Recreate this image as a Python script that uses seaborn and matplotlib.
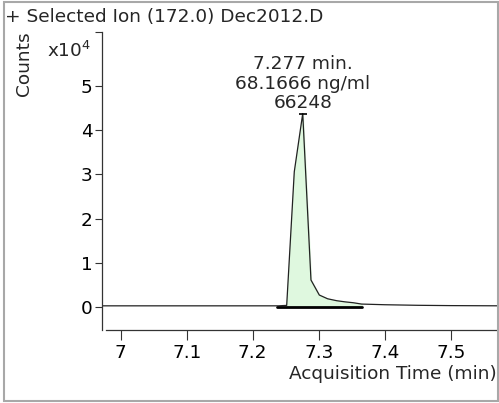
import numpy as np
import pandas as pd
import matplotlib
matplotlib.use('Agg')
import matplotlib.pyplot as plt
import seaborn as sns
from matplotlib.patches import Rectangle

# signal (time in min, counts)
acq_time = [6.965, 7.05, 7.15, 7.2389, 7.2515, 7.263, 7.2758, 7.2883, 7.3009,
            7.3135, 7.3273, 7.34, 7.3525, 7.365, 7.40, 7.45, 7.50, 7.58]
counts = [200, 200, 200, 200, 300, 30600, 43800, 6050, 2650,
          1800, 1360, 1100, 900, 600, 450, 320, 250, 200]

# integrated peak
peak_start, peak_end = 7.2366, 7.365
apex_time, apex_counts = 7.2758, 43800
peak_label = ['7.277 min.', '68.1666 ng/ml', '66248']

title = '+ Selected Ion (172.0) Dec2012.D'
ytick_vals = [0, 1, 2, 3, 4, 5]
xtick_vals = [7, 7.1, 7.2, 7.3, 7.4, 7.5]

sns.set_style('white')
plt.rcParams['font.family'] = ['DejaVu Sans']
fs = 13.3

W, H = 499, 403
fig = plt.figure(figsize=(W / 100, H / 100), dpi=100)


def px(x0, y0, x1, y1):
    return [x0 / W, 1 - y1 / H, (x1 - x0) / W, (y1 - y0) / H]


ax = fig.add_axes(px(101.7, 32, 499, 330))

df = pd.DataFrame({'t': acq_time, 'c': counts})
sns.lineplot(data=df, x='t', y='c', color='#222222', linewidth=0.9, ax=ax)

# shaded peak area between the curve and the integration baseline
t_fill = np.array(acq_time)
c_fill = np.array(counts)
mask = (t_fill >= 7.2515) & (t_fill <= peak_end)
ax.fill_between(t_fill[mask], 0, c_fill[mask], color='#dff8df', zorder=1)
ax.plot([peak_start, peak_end], [0, 0], color='black', linewidth=2, zorder=3)
ax.plot([apex_time], [apex_counts], marker='_', ms=6, mew=1.2, color='black')

ax.annotate('\n'.join(peak_label), xy=(apex_time, apex_counts), xytext=(0, 1),
            textcoords='offset points', ha='center', va='bottom',
            fontsize=fs, linespacing=1.1)

ax.set_xlim(6.9712, 7.5732)
ax.set_ylim(-0.528e4, 6.229e4)
ax.set_xticks(xtick_vals)
ax.set_xticklabels([f'{v:g}' for v in xtick_vals])
ax.set_yticks([v * 1e4 for v in ytick_vals] + [6.229e4])
ax.set_yticklabels([str(v) for v in ytick_vals] + [''])
ax.set_xlabel('')
ax.set_ylabel('')

ax.tick_params(axis='x', direction='out', length=7.2, width=0.8, pad=3,
               labelsize=fs, colors='#333333', labelcolor='black', bottom=True)
ax.tick_params(axis='y', direction='out', length=5, width=0.8, pad=1.5,
               labelsize=fs, colors='#333333', labelcolor='black', left=True)

for s in ['top', 'right']:
    ax.spines[s].set_visible(False)
for s in ['left', 'bottom']:
    ax.spines[s].set_color('#333333')
    ax.spines[s].set_linewidth(0.9)
ax.spines['bottom'].set_bounds(6.977, 7.5732)

fig.text(5 / W, 1 - 17 / H, title, ha='left', va='center', fontsize=fs)
fig.text(23.5 / W, 1 - 64 / H, 'Counts', rotation=90, ha='center', va='center', fontsize=fs)
fig.text(91 / W, 1 - 51 / H, 'x10$^4$', ha='right', va='center', fontsize=fs)
fig.text(497 / W, 1 - 374 / H, 'Acquisition Time (min)', ha='right', va='center', fontsize=fs)

fig.patches.append(Rectangle((4 / W, 2 / H), 494 / W, 399 / H, transform=fig.transFigure,
                             fill=False, edgecolor='#a8a8a8', linewidth=1.5))

fig.savefig('out.png', dpi=100)
